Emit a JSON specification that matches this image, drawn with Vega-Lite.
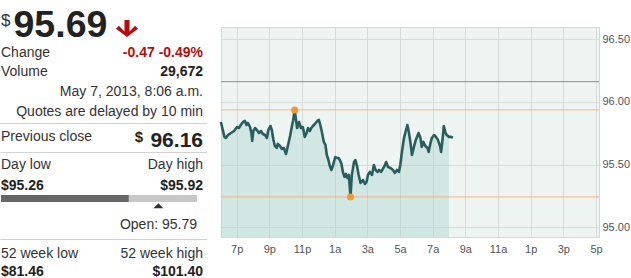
{
  "$schema": "https://vega.github.io/schema/vega-lite/v6.json",
  "padding": {"top": 6, "left": 0, "right": 0, "bottom": 0},
  "bounds": "flush",
  "spacing": 16,
  "config": {"font": "Liberation Sans", "view": {"stroke": null}, "text": {"baseline": "alphabetic"}},
  "hconcat": [
    {
      "width": 205,
      "height": 210,
      "view": {"stroke": null},
      "resolve": {"scale": {"x": "independent"}},
      "layer": [
        {
          "data": {"values": [
            {"slot": 0, "side": "left", "kind": "priceSymbol", "text": "$"},
            {"slot": 0, "side": "left", "kind": "price", "text": "95.69"},
            {"slot": 0, "side": "left", "kind": "direction", "text": "down"},
            {"slot": 1, "side": "left", "kind": "label", "text": "Change"},
            {"slot": 1, "side": "right", "kind": "change", "text": "-0.47 -0.49%"},
            {"slot": 2, "side": "left", "kind": "label", "text": "Volume"},
            {"slot": 2, "side": "right", "kind": "value", "text": "29,672"},
            {"slot": 3, "side": "right", "kind": "label", "text": "May 7, 2013, 8:06 a.m."},
            {"slot": 4, "side": "right", "kind": "label", "text": "Quotes are delayed by 10 min"},
            {"slot": 5, "side": "left", "kind": "separator", "text": ""},
            {"slot": 6, "side": "left", "kind": "label", "text": "Previous close"},
            {"slot": 7, "side": "right", "kind": "prevClose", "text": "96.16"},
            {"slot": 7, "side": "right", "kind": "prevSymbol", "text": "$"},
            {"slot": 8, "side": "left", "kind": "separator", "text": ""},
            {"slot": 9, "side": "left", "kind": "label", "text": "Day low"},
            {"slot": 9, "side": "right", "kind": "label", "text": "Day high"},
            {"slot": 10, "side": "left", "kind": "value", "text": "$95.26"},
            {"slot": 10, "side": "right", "kind": "value", "text": "$95.92"},
            {"slot": 13, "side": "right", "kind": "open", "text": "Open: 95.79"},
            {"slot": 14, "side": "left", "kind": "separator", "text": ""},
            {"slot": 15, "side": "left", "kind": "label", "text": "52 week low"},
            {"slot": 15, "side": "right", "kind": "label", "text": "52 week high"},
            {"slot": 16, "side": "left", "kind": "value", "text": "$81.46"},
            {"slot": 16, "side": "right", "kind": "value", "text": "$101.40"}
          ]},
          "encoding": {
            "y": {"field": "slot", "type": "quantitative", "axis": null, "scale": {"domain": [0,1,2,3,4,5,6,7,8,9,10,11,12,13,14,15,16], "range": [3,30,49,69,89,96.5,114,119.5,125.5,142,163,171.5,178.8,202,212.5,231,255], "zero": false, "nice": false}},
            "text": {"field": "text"}
          },
          "layer": [
            {"transform": [{"filter": "datum.kind == 'separator'"}],
             "mark": {"type": "rule", "color": "#d2d2d2", "strokeWidth": 1, "xOffset": -0.5, "x2Offset": 4},
             "encoding": {"x": {"datum": 0, "type": "quantitative", "axis": null, "scale": {"domain": [0, 1], "range": [1, 203], "zero": false, "nice": false}}, "x2": {"datum": 1}, "text": null}},
            {"transform": [{"filter": "datum.kind == 'priceSymbol'"}],
             "mark": {"type": "text", "align": "left", "baseline": "alphabetic", "fontSize": 17, "color": "#333333", "dy": -11},
             "encoding": {"x": {"datum": 0, "type": "quantitative", "axis": null}}},
            {"transform": [{"filter": "datum.kind == 'price'"}],
             "mark": {"type": "text", "align": "left", "baseline": "alphabetic", "fontSize": 37.5, "fontWeight": "bold", "color": "#222222", "dx": 12.5},
             "encoding": {"x": {"datum": 0, "type": "quantitative", "axis": null}}},
            {"transform": [{"filter": "datum.kind == 'direction'"}],
             "mark": {"type": "point", "shape": "M -0.3,-1 L 0.3,-1 L 0.3,0.35 L 0.95,-0.3 L 1.3,0.05 L 0,1 L -1.3,0.05 L -0.95,-0.3 L -0.3,0.35 Z", "size": 289, "filled": true, "opacity": 1, "strokeWidth": 0, "color": "#b50d0d", "xOffset": 126, "yOffset": -8.3},
             "encoding": {"x": {"datum": 0, "type": "quantitative", "axis": null}, "text": null}},
            {"transform": [{"filter": "datum.kind == 'label' && datum.side == 'left'"}],
             "mark": {"type": "text", "align": "left", "baseline": "alphabetic", "fontSize": 14, "color": "#333333"},
             "encoding": {"x": {"datum": 0, "type": "quantitative", "axis": null}}},
            {"transform": [{"filter": "datum.kind == 'label' && datum.side == 'right'"}],
             "mark": {"type": "text", "align": "right", "baseline": "alphabetic", "fontSize": 14, "color": "#333333"},
             "encoding": {"x": {"datum": 1, "type": "quantitative", "axis": null}}},
            {"transform": [{"filter": "datum.kind == 'value' && datum.side == 'left'"}],
             "mark": {"type": "text", "align": "left", "baseline": "alphabetic", "fontSize": 14, "fontWeight": "bold", "color": "#222222"},
             "encoding": {"x": {"datum": 0, "type": "quantitative", "axis": null}}},
            {"transform": [{"filter": "datum.kind == 'value' && datum.side == 'right'"}],
             "mark": {"type": "text", "align": "right", "baseline": "alphabetic", "fontSize": 14, "fontWeight": "bold", "color": "#222222"},
             "encoding": {"x": {"datum": 1, "type": "quantitative", "axis": null}}},
            {"transform": [{"filter": "datum.kind == 'change'"}],
             "mark": {"type": "text", "align": "right", "baseline": "alphabetic", "fontSize": 14, "fontWeight": "bold", "color": "#b50d0d"},
             "encoding": {"x": {"datum": 1, "type": "quantitative", "axis": null}}},
            {"transform": [{"filter": "datum.kind == 'prevClose'"}],
             "mark": {"type": "text", "align": "right", "baseline": "alphabetic", "fontSize": 21, "fontWeight": "bold", "color": "#222222"},
             "encoding": {"x": {"datum": 1, "type": "quantitative", "axis": null}}},
            {"transform": [{"filter": "datum.kind == 'prevSymbol'"}],
             "mark": {"type": "text", "align": "right", "baseline": "alphabetic", "fontSize": 15, "fontWeight": "bold", "color": "#222222", "dx": -60, "dy": -4.5},
             "encoding": {"x": {"datum": 1, "type": "quantitative", "axis": null}}},
            {"transform": [{"filter": "datum.kind == 'open'"}],
             "mark": {"type": "text", "align": "right", "baseline": "alphabetic", "fontSize": 14, "color": "#333333", "dx": -6},
             "encoding": {"x": {"datum": 1, "type": "quantitative", "axis": null}}}
          ]
        },
        {
          "data": {"values": [{"low": 95.26, "high": 95.92, "last": 95.69, "open": 95.79}]},
          "layer": [
            {"mark": {"type": "bar", "height": 7, "color": "#c8c8c8"},
             "encoding": {
               "x": {"field": "low", "type": "quantitative", "axis": null, "scale": {"domain": [95.26, 95.92], "range": [1, 197], "zero": false, "nice": false}},
               "x2": {"field": "high"},
               "y": {"datum": 11, "type": "quantitative", "axis": null, "scale": {"domain": [0,1,2,3,4,5,6,7,8,9,10,11,12,13,14,15,16], "range": [3,30,49,69,89,96.5,114,119.5,125.5,142,163,171.5,178.8,202,212.5,231,255], "zero": false, "nice": false}}}},
            {"mark": {"type": "bar", "height": 7, "color": "#666666"},
             "encoding": {
               "x": {"field": "low", "type": "quantitative", "axis": null},
               "x2": {"field": "last"},
               "y": {"datum": 11, "type": "quantitative", "axis": null}}},
            {"mark": {"type": "point", "shape": "M -1,0.5 L 0,-0.5 L 1,0.5 Z", "size": 100, "filled": true, "opacity": 1, "strokeWidth": 0, "color": "#333333"},
             "encoding": {
               "x": {"field": "open", "type": "quantitative", "axis": null},
               "y": {"datum": 12, "type": "quantitative", "axis": null}}}
          ]
        }
      ]
    },
    {
      "width": 378,
      "height": 210,
      "view": {"fill": "#eef4f1", "stroke": "#d3dad6"},
      "data": {"values": [
        {"t": "2013-05-06T18:02:00Z", "price": 95.839},
        {"t": "2013-05-06T18:07:00Z", "price": 95.791},
        {"t": "2013-05-06T18:15:00Z", "price": 95.720},
        {"t": "2013-05-06T18:20:00Z", "price": 95.712},
        {"t": "2013-05-06T18:28:00Z", "price": 95.735},
        {"t": "2013-05-06T18:39:00Z", "price": 95.751},
        {"t": "2013-05-06T18:50:00Z", "price": 95.767},
        {"t": "2013-05-06T19:01:00Z", "price": 95.799},
        {"t": "2013-05-06T19:08:00Z", "price": 95.791},
        {"t": "2013-05-06T19:15:00Z", "price": 95.815},
        {"t": "2013-05-06T19:23:00Z", "price": 95.839},
        {"t": "2013-05-06T19:30:00Z", "price": 95.847},
        {"t": "2013-05-06T19:36:00Z", "price": 95.815},
        {"t": "2013-05-06T19:41:00Z", "price": 95.831},
        {"t": "2013-05-06T19:49:00Z", "price": 95.799},
        {"t": "2013-05-06T19:54:00Z", "price": 95.751},
        {"t": "2013-05-06T19:57:00Z", "price": 95.688},
        {"t": "2013-05-06T20:01:00Z", "price": 95.767},
        {"t": "2013-05-06T20:07:00Z", "price": 95.791},
        {"t": "2013-05-06T20:14:00Z", "price": 95.775},
        {"t": "2013-05-06T20:22:00Z", "price": 95.751},
        {"t": "2013-05-06T20:29:00Z", "price": 95.767},
        {"t": "2013-05-06T20:36:00Z", "price": 95.743},
        {"t": "2013-05-06T20:44:00Z", "price": 95.735},
        {"t": "2013-05-06T20:51:00Z", "price": 95.712},
        {"t": "2013-05-06T20:56:00Z", "price": 95.775},
        {"t": "2013-05-06T21:04:00Z", "price": 95.807},
        {"t": "2013-05-06T21:09:00Z", "price": 95.775},
        {"t": "2013-05-06T21:15:00Z", "price": 95.696},
        {"t": "2013-05-06T21:20:00Z", "price": 95.648},
        {"t": "2013-05-06T21:27:00Z", "price": 95.632},
        {"t": "2013-05-06T21:31:00Z", "price": 95.664},
        {"t": "2013-05-06T21:39:00Z", "price": 95.648},
        {"t": "2013-05-06T21:46:00Z", "price": 95.624},
        {"t": "2013-05-06T21:53:00Z", "price": 95.632},
        {"t": "2013-05-06T22:01:00Z", "price": 95.584},
        {"t": "2013-05-06T22:08:00Z", "price": 95.648},
        {"t": "2013-05-06T22:16:00Z", "price": 95.727},
        {"t": "2013-05-06T22:23:00Z", "price": 95.807},
        {"t": "2013-05-06T22:27:00Z", "price": 95.847},
        {"t": "2013-05-06T22:33:00Z", "price": 95.935},
        {"t": "2013-05-06T22:38:00Z", "price": 95.855},
        {"t": "2013-05-06T22:42:00Z", "price": 95.791},
        {"t": "2013-05-06T22:49:00Z", "price": 95.839},
        {"t": "2013-05-06T22:56:00Z", "price": 95.791},
        {"t": "2013-05-06T23:03:00Z", "price": 95.799},
        {"t": "2013-05-06T23:10:00Z", "price": 95.720},
        {"t": "2013-05-06T23:17:00Z", "price": 95.751},
        {"t": "2013-05-06T23:22:00Z", "price": 95.791},
        {"t": "2013-05-06T23:29:00Z", "price": 95.767},
        {"t": "2013-05-06T23:34:00Z", "price": 95.791},
        {"t": "2013-05-06T23:40:00Z", "price": 95.807},
        {"t": "2013-05-06T23:47:00Z", "price": 95.823},
        {"t": "2013-05-06T23:56:00Z", "price": 95.847},
        {"t": "2013-05-07T00:02:00Z", "price": 95.855},
        {"t": "2013-05-07T00:08:00Z", "price": 95.807},
        {"t": "2013-05-07T00:13:00Z", "price": 95.759},
        {"t": "2013-05-07T00:20:00Z", "price": 95.680},
        {"t": "2013-05-07T00:26:00Z", "price": 95.656},
        {"t": "2013-05-07T00:31:00Z", "price": 95.576},
        {"t": "2013-05-07T00:37:00Z", "price": 95.536},
        {"t": "2013-05-07T00:42:00Z", "price": 95.488},
        {"t": "2013-05-07T00:48:00Z", "price": 95.457},
        {"t": "2013-05-07T00:53:00Z", "price": 95.488},
        {"t": "2013-05-07T01:02:00Z", "price": 95.560},
        {"t": "2013-05-07T01:08:00Z", "price": 95.552},
        {"t": "2013-05-07T01:14:00Z", "price": 95.552},
        {"t": "2013-05-07T01:19:00Z", "price": 95.536},
        {"t": "2013-05-07T01:25:00Z", "price": 95.504},
        {"t": "2013-05-07T01:30:00Z", "price": 95.441},
        {"t": "2013-05-07T01:36:00Z", "price": 95.401},
        {"t": "2013-05-07T01:41:00Z", "price": 95.425},
        {"t": "2013-05-07T01:47:00Z", "price": 95.393},
        {"t": "2013-05-07T01:52:00Z", "price": 95.417},
        {"t": "2013-05-07T01:58:00Z", "price": 95.242},
        {"t": "2013-05-07T02:03:00Z", "price": 95.417},
        {"t": "2013-05-07T02:11:00Z", "price": 95.520},
        {"t": "2013-05-07T02:16:00Z", "price": 95.536},
        {"t": "2013-05-07T02:22:00Z", "price": 95.488},
        {"t": "2013-05-07T02:28:00Z", "price": 95.417},
        {"t": "2013-05-07T02:35:00Z", "price": 95.353},
        {"t": "2013-05-07T02:44:00Z", "price": 95.377},
        {"t": "2013-05-07T02:51:00Z", "price": 95.345},
        {"t": "2013-05-07T02:57:00Z", "price": 95.361},
        {"t": "2013-05-07T03:02:00Z", "price": 95.417},
        {"t": "2013-05-07T03:09:00Z", "price": 95.441},
        {"t": "2013-05-07T03:17:00Z", "price": 95.417},
        {"t": "2013-05-07T03:24:00Z", "price": 95.496},
        {"t": "2013-05-07T03:30:00Z", "price": 95.457},
        {"t": "2013-05-07T03:37:00Z", "price": 95.441},
        {"t": "2013-05-07T03:43:00Z", "price": 95.457},
        {"t": "2013-05-07T03:50:00Z", "price": 95.441},
        {"t": "2013-05-07T03:57:00Z", "price": 95.465},
        {"t": "2013-05-07T04:03:00Z", "price": 95.488},
        {"t": "2013-05-07T04:09:00Z", "price": 95.520},
        {"t": "2013-05-07T04:16:00Z", "price": 95.480},
        {"t": "2013-05-07T04:25:00Z", "price": 95.473},
        {"t": "2013-05-07T04:34:00Z", "price": 95.457},
        {"t": "2013-05-07T04:41:00Z", "price": 95.433},
        {"t": "2013-05-07T04:49:00Z", "price": 95.457},
        {"t": "2013-05-07T04:56:00Z", "price": 95.441},
        {"t": "2013-05-07T05:01:00Z", "price": 95.496},
        {"t": "2013-05-07T05:07:00Z", "price": 95.600},
        {"t": "2013-05-07T05:14:00Z", "price": 95.704},
        {"t": "2013-05-07T05:20:00Z", "price": 95.759},
        {"t": "2013-05-07T05:27:00Z", "price": 95.815},
        {"t": "2013-05-07T05:33:00Z", "price": 95.751},
        {"t": "2013-05-07T05:38:00Z", "price": 95.680},
        {"t": "2013-05-07T05:44:00Z", "price": 95.576},
        {"t": "2013-05-07T05:51:00Z", "price": 95.640},
        {"t": "2013-05-07T05:58:00Z", "price": 95.696},
        {"t": "2013-05-07T06:08:00Z", "price": 95.751},
        {"t": "2013-05-07T06:15:00Z", "price": 95.712},
        {"t": "2013-05-07T06:20:00Z", "price": 95.640},
        {"t": "2013-05-07T06:26:00Z", "price": 95.680},
        {"t": "2013-05-07T06:33:00Z", "price": 95.648},
        {"t": "2013-05-07T06:41:00Z", "price": 95.632},
        {"t": "2013-05-07T06:45:00Z", "price": 95.600},
        {"t": "2013-05-07T06:52:00Z", "price": 95.672},
        {"t": "2013-05-07T06:57:00Z", "price": 95.712},
        {"t": "2013-05-07T07:05:00Z", "price": 95.735},
        {"t": "2013-05-07T07:12:00Z", "price": 95.720},
        {"t": "2013-05-07T07:19:00Z", "price": 95.696},
        {"t": "2013-05-07T07:27:00Z", "price": 95.648},
        {"t": "2013-05-07T07:31:00Z", "price": 95.600},
        {"t": "2013-05-07T07:36:00Z", "price": 95.696},
        {"t": "2013-05-07T07:41:00Z", "price": 95.807},
        {"t": "2013-05-07T07:47:00Z", "price": 95.751},
        {"t": "2013-05-07T07:52:00Z", "price": 95.735},
        {"t": "2013-05-07T08:00:00Z", "price": 95.720},
        {"t": "2013-05-07T08:08:00Z", "price": 95.720},
        {"t": "2013-05-07T08:14:00Z", "price": 95.712}
      ]},
      "encoding": {
        "x": {"field": "t", "type": "temporal",
          "scale": {"type": "utc", "domain": [{"year": 2013, "month": 5, "date": 6, "hours": 18, "minutes": 2, "seconds": 18, "utc": true}, {"year": 2013, "month": 5, "date": 7, "hours": 17, "minutes": 11, "utc": true}]},
          "axis": {"title": null, "orient": "bottom", "domain": false, "ticks": false, "tickSize": 0, "labelPadding": 6, "labelFontSize": 11, "labelColor": "#555555", "labelFont": "Liberation Sans", "labelFlush": false, "labelOverlap": false, "grid": true, "gridColor": "#d5dcd8", "gridWidth": 1,
            "labelExpr": "utcFormat(datum.value, '%-I') + (utchours(datum.value) < 12 ? 'a' : 'p')",
            "values": [
              {"year": 2013, "month": 5, "date": 6, "hours": 19, "utc": true},
              {"year": 2013, "month": 5, "date": 6, "hours": 21, "utc": true},
              {"year": 2013, "month": 5, "date": 6, "hours": 23, "utc": true},
              {"year": 2013, "month": 5, "date": 7, "hours": 1, "utc": true},
              {"year": 2013, "month": 5, "date": 7, "hours": 3, "utc": true},
              {"year": 2013, "month": 5, "date": 7, "hours": 5, "utc": true},
              {"year": 2013, "month": 5, "date": 7, "hours": 7, "utc": true},
              {"year": 2013, "month": 5, "date": 7, "hours": 9, "utc": true},
              {"year": 2013, "month": 5, "date": 7, "hours": 11, "utc": true},
              {"year": 2013, "month": 5, "date": 7, "hours": 13, "utc": true},
              {"year": 2013, "month": 5, "date": 7, "hours": 15, "utc": true},
              {"year": 2013, "month": 5, "date": 7, "hours": 17, "utc": true}
            ]}},
        "y": {"field": "price", "type": "quantitative",
          "scale": {"domain": [94.9227, 96.5956], "zero": false, "nice": false},
          "axis": {"title": null, "orient": "right", "domain": false, "ticks": false, "tickSize": 0, "labelPadding": 3, "labelFontSize": 11, "labelColor": "#555555", "labelFont": "Liberation Sans", "format": ".2f", "values": [95, 95.5, 96, 96.5], "grid": true, "gridColor": "#d5dcd8", "gridWidth": 1}}
      },
      "layer": [
        {
          "transform": [{"filter": {"field": "t", "lte": {"year": 2013, "month": 5, "date": 7, "hours": 8, "minutes": 1, "utc": true}}}],
          "mark": {"type": "area", "color": "#97ccc9", "opacity": 0.32},
          "encoding": {"y2": {"datum": 94.9227}}
        },
        {
          "data": {"values": [{"reference": "Previous close", "price": 96.16}]},
          "mark": {"type": "rule", "color": "#8c918e", "strokeWidth": 1},
          "encoding": {"x": null}
        },
        {
          "transform": [
            {"joinaggregate": [{"op": "max", "field": "price", "as": "hi"}, {"op": "min", "field": "price", "as": "lo"}]},
            {"filter": "datum.price == datum.hi || datum.price == datum.lo"}
          ],
          "mark": {"type": "rule", "color": "#f2b684", "strokeWidth": 1},
          "encoding": {"x": null}
        },
        {
          "mark": {"type": "line", "color": "#2a5e5e", "strokeWidth": 2.6, "strokeJoin": "round"}
        },
        {
          "transform": [
            {"joinaggregate": [{"op": "max", "field": "price", "as": "hi"}, {"op": "min", "field": "price", "as": "lo"}]},
            {"filter": "datum.price == datum.hi || datum.price == datum.lo"}
          ],
          "mark": {"type": "point", "filled": true, "opacity": 1, "size": 50, "color": "#f09a33", "strokeWidth": 0}
        }
      ]
    }
  ]
}
